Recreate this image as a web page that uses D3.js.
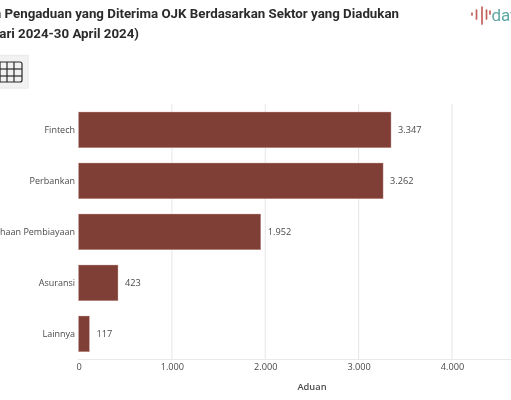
<!DOCTYPE html>
<html><head><meta charset="utf-8">
<style>html,body{margin:0;padding:0;background:#fff;overflow:hidden}svg{display:block;filter:blur(0.35px)}</style>
<script src="https://cdn.jsdelivr.net/npm/d3@7/dist/d3.min.js"></script></head>
<body><svg id="c" width="511" height="400"></svg>
<script>
const categories=["Fintech","Perbankan","Perusahaan Pembiayaan","Asuransi","Lainnya"];
const values=[3347,3262,1952,423,117];
const valueLabels=["3.347","3.262","1.952","423","117"];
const ticks=[0,1000,2000,3000,4000];
const tickLabels=["0","1.000","2.000","3.000","4.000"];
const titleLines=["Jumlah Pengaduan yang Diterima OJK Berdasarkan Sektor yang Diadukan","(1 Januari 2024-30 April 2024)"];
const svg=d3.select("#c");
const sans="'Open Sans',sans-serif";
const ink="#4a4a4a";
const x=d3.scaleLinear().domain([0,4000]).range([78.5,452]);
const y=d3.scaleBand().domain(categories).range([104.4,359.4]).paddingInner(0.298).paddingOuter(0.149);
// title: the reference is a crop, so the text runs off the left edge
svg.append("text").attr("x",399).attr("y",18).attr("text-anchor","end")
 .attr("font-family","Roboto,sans-serif").attr("font-weight",700).attr("font-size",13.3).attr("fill","#2b2b2b")
 .text(titleLines[0]);
svg.append("text").attr("x",139).attr("y",38).attr("text-anchor","end")
 .attr("font-family","Roboto,sans-serif").attr("font-weight",700).attr("font-size",13.3).attr("fill","#2b2b2b")
 .text(titleLines[1]);
// table button
svg.append("rect").attr("x",-6).attr("y",55.5).attr("width",34).attr("height",32.5).attr("fill","#f2f2f2").attr("stroke","#ececec").attr("stroke-width",1.5);
const g=svg.append("g").attr("fill","none").attr("stroke","#2a2a2a").attr("stroke-width",1.2);
g.append("rect").attr("x",-8).attr("y",62).attr("width",30).attr("height",20).attr("rx",2);
[69,76].forEach(v=>g.append("line").attr("x1",-8).attr("x2",22).attr("y1",v).attr("y2",v));
[0,7,14].forEach(v=>g.append("line").attr("x1",v).attr("x2",v).attr("y1",62).attr("y2",82));
// grid
svg.append("g").selectAll("line").data(ticks.slice(1)).join("line")
 .attr("x1",d=>x(d)).attr("x2",d=>x(d)).attr("y1",104).attr("y2",359).attr("stroke","#e6e6e6").attr("stroke-width",1);
svg.append("line").attr("x1",78).attr("x2",511).attr("y1",359.5).attr("y2",359.5).attr("stroke","#e9e9e9");
// axes
const ax=d3.axisBottom(x).tickValues(ticks).tickFormat((d,i)=>tickLabels[i]).tickSize(0).tickPadding(0);
const axg=svg.append("g").attr("transform","translate(0,360)").call(ax);
axg.select(".domain").remove();
axg.selectAll("text").attr("y",3.5).attr("font-family",sans).attr("font-size",9.2).attr("fill",ink);
const ay=d3.axisLeft(y).tickSize(0).tickPadding(3);
const ayg=svg.append("g").attr("transform","translate(78,0)").call(ay);
ayg.select(".domain").remove();
ayg.selectAll("text").attr("font-family",sans).attr("font-size",9).attr("fill",ink);
// bars
svg.append("g").selectAll("rect").data(values).join("rect")
 .attr("x",x(0)).attr("y",(d,i)=>y(categories[i])).attr("width",d=>x(d)-x(0)).attr("height",y.bandwidth())
 .attr("fill","#803f36").attr("stroke","#d3b0a8").attr("stroke-width",0.4);
svg.append("g").selectAll("text").data(values).join("text")
 .attr("x",d=>x(d)+7).attr("y",(d,i)=>y(categories[i])+y.bandwidth()/2+3)
 .attr("font-family",sans).attr("font-size",9.2).attr("fill",ink).text((d,i)=>valueLabels[i]);
svg.append("text").attr("x",312).attr("y",389.5).attr("text-anchor","middle").attr("font-family",sans).attr("font-size",9.3).attr("font-weight",600).attr("fill",ink).text("Aduan");
// logo
const logo=svg.append("g").attr("stroke","#c4605a").attr("stroke-width",1.7).attr("stroke-linecap","round");
[[472,13,15],[476.5,10,19],[482,7,24],[486.5,10,19],[490,11,14]].forEach(([a,b,c])=>{
 logo.append("line").attr("x1",a).attr("x2",a).attr("y1",b).attr("y2",c);
});
svg.append("text").attr("x",491.5).attr("y",21).attr("font-family","Roboto,sans-serif").attr("font-size",17).attr("fill","#5fa8a5").text("data");
</script></body></html>
